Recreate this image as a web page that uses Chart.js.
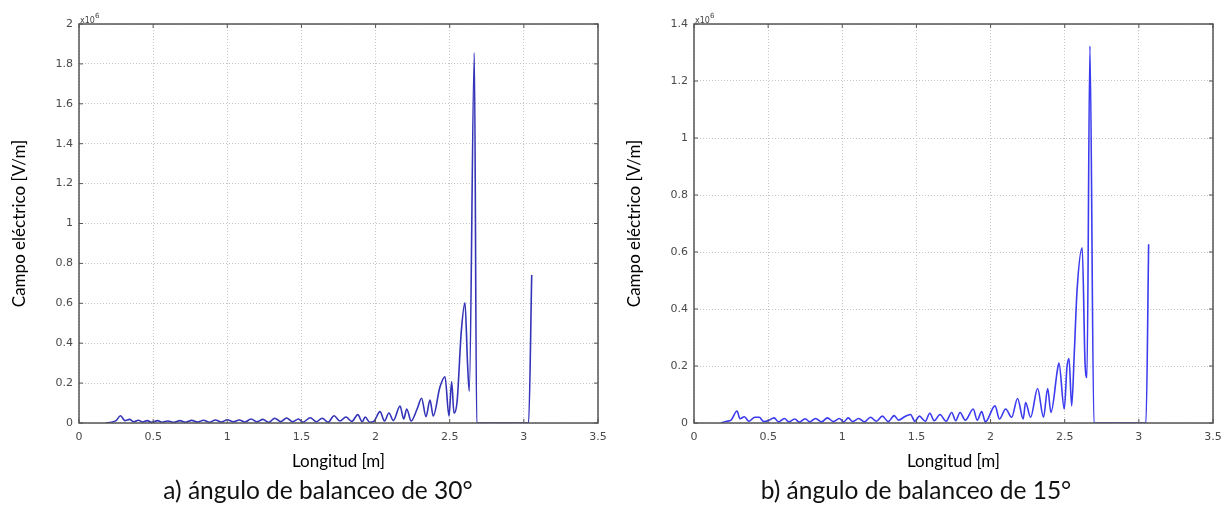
<!DOCTYPE html>
<html>
<head>
<meta charset="utf-8">
<script src="https://cdn.jsdelivr.net/npm/chart.js@4.4.0/dist/chart.umd.min.js"></script>
<style>
  body { margin: 0; background: #fff; width: 1231px; height: 513px; position: relative; overflow: hidden; }
  .box { position: absolute; top: 0; height: 480px; }
  .caption { position: absolute; top: 475px; font-family: Lato, "Open Sans", sans-serif; font-size: 24.5px; color: #111; white-space: nowrap; transform: translateX(-50%); }
</style>
</head>
<body>
<div class="box" style="left:0;width:615px"><canvas id="chart-a"></canvas></div>
<div class="box" style="left:615px;width:616px"><canvas id="chart-b"></canvas></div>
<div class="caption" style="left:318px">a) ángulo de balanceo de 30°</div>
<div class="caption" style="left:916px">b) ángulo de balanceo de 15°</div>
<script>
// Longitud [m] and Campo eléctrico [x10^6 V/m]
const lengthA = [0.18, 0.22, 0.25, 0.28, 0.31, 0.34, 0.37, 0.40, 0.43, 0.46, 0.49, 0.53, 0.56, 0.60, 0.64, 0.68, 0.72, 0.76, 0.80, 0.84,
    0.88, 0.92, 0.96, 1.00, 1.04, 1.08, 1.12, 1.16, 1.20, 1.24, 1.28, 1.32, 1.36, 1.40, 1.44, 1.48, 1.51, 1.56, 1.60, 1.64,
    1.68, 1.72, 1.76, 1.80, 1.84, 1.88, 1.91, 1.93, 1.96, 1.99, 2.03, 2.06, 2.09, 2.12, 2.165, 2.19, 2.21, 2.24, 2.28, 2.31,
    2.34, 2.367, 2.389, 2.434, 2.468, 2.495, 2.513, 2.529, 2.55, 2.578, 2.603, 2.62, 2.632, 2.666, 2.682, 2.8, 2.9, 3.032, 3.053];
const fieldA = [0, 0.004, 0.012, 0.036, 0.012, 0.018, 0.006, 0.014, 0.005, 0.012, 0.003, 0.012, 0.004, 0.010, 0.003, 0.012, 0.004, 0.013, 0.005, 0.014,
    0.004, 0.015, 0.005, 0.016, 0.006, 0.015, 0.005, 0.020, 0.006, 0.018, 0.004, 0.024, 0.007, 0.025, 0.006, 0.020, 0.004, 0.026, 0.006, 0.024,
    0.004, 0.036, 0.010, 0.030, 0.008, 0.042, 0.006, 0.030, 0.004, 0.010, 0.057, 0.010, 0.050, 0.012, 0.085, 0.020, 0.070, 0.010, 0.070, 0.124,
    0.032, 0.115, 0.035, 0.180, 0.232, 0.035, 0.207, 0.049, 0.110, 0.458, 0.603, 0.300, 0.160, 1.856, 0, 0, 0, 0, 0.742];

const lengthB = [0.18, 0.22, 0.25, 0.29, 0.31, 0.34, 0.37, 0.41, 0.44, 0.47, 0.50, 0.54, 0.57, 0.61, 0.64, 0.68, 0.71, 0.75, 0.78, 0.82,
    0.86, 0.90, 0.94, 0.98, 1.01, 1.04, 1.07, 1.11, 1.15, 1.19, 1.23, 1.27, 1.31, 1.35, 1.38, 1.42, 1.46, 1.49, 1.52, 1.56,
    1.59, 1.62, 1.659, 1.70, 1.738, 1.765, 1.794, 1.83, 1.883, 1.91, 1.94, 1.965, 2.03, 2.06, 2.102, 2.142, 2.182, 2.22, 2.236, 2.27,
    2.317, 2.357, 2.385, 2.407, 2.452, 2.461, 2.497, 2.515, 2.529, 2.547, 2.565, 2.583, 2.618, 2.637, 2.65, 2.67, 2.697, 2.85, 3.048, 3.066];
const fieldB = [0, 0.006, 0.010, 0.042, 0.015, 0.022, 0.006, 0.020, 0.020, 0.005, 0.008, 0.018, 0.004, 0.016, 0.004, 0.014, 0.003, 0.015, 0.004, 0.016,
    0.004, 0.018, 0.005, 0.016, 0.004, 0.018, 0.005, 0.016, 0.004, 0.020, 0.006, 0.024, 0.005, 0.026, 0.010, 0.022, 0.030, 0.006, 0.024, 0.006,
    0.034, 0.008, 0.030, 0.006, 0.037, 0.008, 0.037, 0.010, 0.049, 0.010, 0.040, 0.004, 0.060, 0.014, 0.049, 0.020, 0.086, 0.014, 0.072, 0.020,
    0.121, 0.020, 0.121, 0.037, 0.190, 0.210, 0.049, 0.195, 0.226, 0.060, 0.250, 0.463, 0.615, 0.212, 0.160, 1.323, 0, 0, 0, 0.627];

const xTicks = [0, 0.5, 1, 1.5, 2, 2.5, 3, 3.5];
const yMaxA = 2, yMaxB = 1.4;

// box around the plot, inward tick marks and the x10^6 multiplier
const framePlugin = {
    id: 'frame',
    afterDraw(chart) {
        const { ctx, chartArea: a, scales } = chart;
        ctx.save();
        ctx.strokeStyle = '#555';
        ctx.lineWidth = 1.5;
        ctx.strokeRect(a.left, a.top, a.right - a.left, a.bottom - a.top);
        ctx.lineWidth = 1;
        ctx.beginPath();
        scales.x.ticks.forEach(t => {
            const px = scales.x.getPixelForValue(t.value);
            ctx.moveTo(px, a.top); ctx.lineTo(px, a.top + 4);
            ctx.moveTo(px, a.bottom); ctx.lineTo(px, a.bottom - 4);
        });
        scales.y.ticks.forEach(t => {
            const py = scales.y.getPixelForValue(t.value);
            ctx.moveTo(a.left, py); ctx.lineTo(a.left + 4, py);
            ctx.moveTo(a.right, py); ctx.lineTo(a.right - 4, py);
        });
        ctx.stroke();
        ctx.fillStyle = '#444';
        ctx.textBaseline = 'alphabetic';
        ctx.font = '8px "DejaVu Sans"';
        ctx.fillText('x10', a.left + 1, a.top - 1);
        const w = ctx.measureText('x10').width;
        ctx.font = '7px "DejaVu Sans"';
        ctx.fillText('6', a.left + 1 + w, a.top - 6);
        ctx.restore();
    }
};

const fmt = v => String(Math.round(v * 10) / 10);

function makeChart(id, xs, ys, yMax, color, padRight) {
    const points = xs.map((x, i) => ({ x: x, y: ys[i] }));
    const config = {
        type: 'scatter',
        data: {
            datasets: [{
                data: points,
                showLine: true,
                borderColor: color,
                borderWidth: 1.6,
                pointRadius: 0,
                cubicInterpolationMode: 'monotone'
            }]
        },
        options: {
            responsive: false,
            animation: false,
            layout: { padding: { top: 24, right: padRight, bottom: 7, left: 0 } },
            plugins: { legend: { display: false }, tooltip: { enabled: false } },
            scales: {
                x: {
                    type: 'linear',
                    min: 0, max: 3.5,
                    afterBuildTicks: s => { s.ticks = xTicks.map(v => ({ value: v })); },
                    afterFit: s => { s.height = 50; },
                    grid: { color: '#c4c4c4', lineWidth: 1, drawTicks: false },
                    border: { display: false, dash: [1, 2] },
                    ticks: { padding: 8, color: '#4a4a4a', font: { family: 'DejaVu Sans', size: 11 }, maxRotation: 0, callback: fmt },
                    title: { display: true, text: 'Longitud [m]', color: '#000', font: { family: 'Lato', size: 17 }, padding: { top: 0, bottom: 1 } }
                },
                y: {
                    min: 0, max: yMax,
                    ticks: { stepSize: 0.2, padding: 6, color: '#4a4a4a', font: { family: 'DejaVu Sans', size: 11 }, callback: fmt },
                    afterFit: s => { s.width = 79; },
                    grid: { color: '#c4c4c4', lineWidth: 1, drawTicks: false },
                    border: { display: false, dash: [1, 2] },
                    title: { display: true, text: 'Campo eléctrico [V/m]', color: '#000', font: { family: 'Lato', size: 17 }, padding: { top: 9, bottom: 0 } }
                }
            }
        },
        plugins: [framePlugin]
    };
    const canvas = document.getElementById(id);
    canvas.width = canvas.parentNode.clientWidth;
    canvas.height = 480;
    return new Chart(canvas, config);
}

window.chartA = makeChart('chart-a', lengthA, fieldA, yMaxA, '#3434b8', 17);
window.chartB = makeChart('chart-b', lengthB, fieldB, yMaxB, '#3b3bef', 18);
</script>
</body>
</html>
